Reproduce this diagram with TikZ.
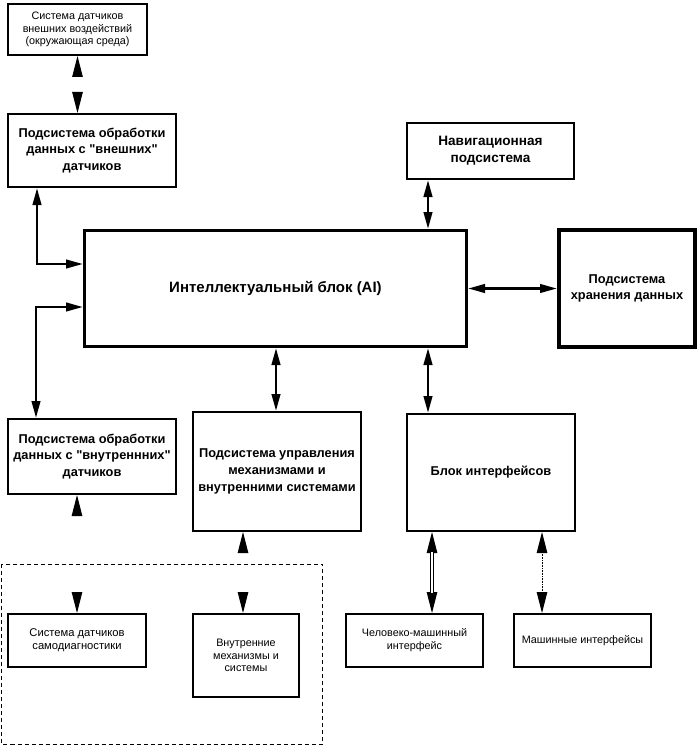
\documentclass[tikz,border=0pt]{standalone}
\usepackage{fontspec}
\setmainfont{Liberation Sans}
\usetikzlibrary{arrows.meta}
\tikzset{
  bx/.style={draw, line width=2pt, inner sep=1pt, align=center, font=\fontsize{12.8}{16.7}\selectfont\bfseries},
  bxr/.style={draw, line width=2pt, inner sep=1pt, align=center, font=\fontsize{10.8}{12.8}\selectfont},
  thk/.style={line width=2.6pt, {Triangle[length=17pt,width=8.5pt]}-{Triangle[length=17pt,width=8.5pt]}},
  hd/.style={draw=white, line width=1pt, {Triangle[color=black,length=21pt,width=10.5pt]}-{Triangle[color=black,length=21pt,width=10.5pt]}},
  dbl/.style={line width=0.7pt, double distance=1.8pt, shorten <=20pt, shorten >=20pt},
  dotl/.style={line width=0.6pt, densely dotted, shorten <=20pt, shorten >=20pt},
  grp/.style={line width=1pt, dash pattern=on 4pt off 3pt},
}
\begin{document}
\begin{tikzpicture}[x=1pt,y=-1pt]
\useasboundingbox (0,0) rectangle (700,749);
% nodes
\node[bxr, minimum width=139pt, minimum height=51pt] (ext) at (77.5,29.5) {Система датчиков\\внешних воздействий\\(окружающая среда)};
\node[bx, minimum width=168pt, minimum height=73pt] (b2) at (92,150.5) {Подсистема обработки\\данных с \textquotedbl внешних\textquotedbl\\датчиков};
\node[bx, line width=3pt, minimum width=382pt, minimum height=116pt, font=\fontsize{15}{18}\selectfont\bfseries] (ai) at (275.5,288.5) {Интеллектуальный блок (AI)};
\node[bx, minimum width=167pt, minimum height=56pt, font=\fontsize{13.6}{16.7}\selectfont\bfseries] (nav) at (490.5,151) {Навигационная\\подсистема};
\node[bx, line width=4pt, minimum width=136pt, minimum height=117pt] (st) at (627,288.5) {Подсистема\\хранения данных};
\node[bx, minimum width=168pt, minimum height=75pt] (b6) at (92,456.5) {Подсистема обработки\\данных с \textquotedbl внутреннних\textquotedbl\\датчиков};
\node[bx, minimum width=168pt, minimum height=119pt] (b7) at (277,471.5) {Подсистема управления\\механизмами и\\внутренними системами};
\node[bx, minimum width=168pt, minimum height=117pt] (b8) at (491,472.5) {Блок интерфейсов};
\node[bxr, minimum width=137pt, minimum height=53pt] (hmi) at (414.5,640.5) {Человеко-машинный\\интерфейс};
\node[bxr, minimum width=137pt, minimum height=53pt] (mach) at (582.5,640.5) {Машинные интерфейсы};
\node[bxr, minimum width=138pt, minimum height=53pt, font=\fontsize{11.2}{12.8}\selectfont] (sd) at (77,640.5) {Система датчиков\\самодиагностики};
\node[bxr, minimum width=106pt, minimum height=83pt] (im) at (246,655.5) {Внутренние\\механизмы и\\системы};
% coordinates
\coordinate (c2) at ([xshift=-55pt]b2.south);
\coordinate (c6) at ([xshift=-56pt]b6.north);
\coordinate (c6b) at ([xshift=-15pt]b6.south);
\coordinate (c7) at ([xshift=-1pt]b7.north);
\coordinate (c7b) at ([xshift=-3pt]im.north);
\coordinate (c8) at ([xshift=-63pt]b8.north);
\coordinate (c9) at ([xshift=17.5pt]hmi.north);
\coordinate (c10) at ([xshift=-40.5pt]mach.north);
% connectors
\draw[thk] (c2) |- ([yshift=24.5pt]ai.west);
\draw[thk] ([yshift=-18.5pt]ai.west) -| (c6);
\draw[thk] (c7 |- ai.south) -- (c7);
\draw[thk] (c8 |- ai.south) -- (c8);
\draw[thk] (c8 |- nav.south) -- (c8 |- ai.north);
\draw[thk] (ai.east) -- (st.west);
\draw[hd] (ext.south) -- (ext.south |- b2.north);
\draw[hd] (c6b) -- (c6b |- sd.north);
\draw[hd] (c7b |- b7.south) -- (c7b);
\draw[hd] (c9 |- b8.south) -- (c9);
\draw[dbl] (c9 |- b8.south) -- (c9);
\draw[hd] (c10 |- b8.south) -- (c10);
\draw[dotl] (c10 |- b8.south) -- (c10);
% group frame
\draw[grp] (1.5,564) rectangle (322.5,744);
\end{tikzpicture}
\end{document}
